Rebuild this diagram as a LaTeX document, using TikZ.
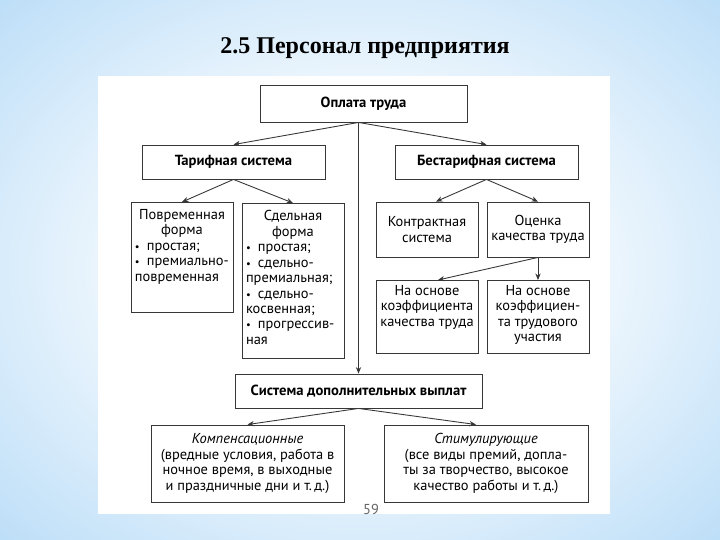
\documentclass[tikz,border=0pt]{standalone}
\usepackage{fontspec}
\setmainfont{PT Sans}
\newfontfamily\titlefont{Liberation Serif}
\usetikzlibrary{arrows.meta}
\definecolor{bgblue}{RGB}{172,214,246}
\definecolor{bgdeep}{RGB}{140,196,241}
\definecolor{linegray}{RGB}{55,55,55}
\pgfdeclareradialshading{slideshade}{\pgfpoint{0bp}{0bp}}{color(0bp)=(white); color(10bp)=(white); color(42bp)=(bgblue); color(72bp)=(bgdeep)}
\newcommand\bul{{\small\textbullet}\enspace}
\tikzset{
  box/.style={draw=linegray, line width=0.75pt, fill=white, inner sep=0pt, align=center,
    font=\fontsize{12.3}{13.2}\selectfont},
  headbox/.style={box, font=\bfseries\fontsize{12.5}{14}\selectfont},
  arr/.style={draw=linegray, line width=0.75pt, -{Stealth[length=5.5pt,width=4.5pt]}},
}

\begin{document}
\begin{tikzpicture}[x=0.03cm,y=-0.03cm]
			%%%%% START %%%%%
			
			\shade[shading=slideshade] (0,0) rectangle (720,540);
			\fill[white] (98,76) rectangle (610,514);
			
			\node[font=\titlefont\bfseries\fontsize{20.5}{22}\selectfont] (title) at (365,48) {2.5 Персонал предприятия};
			
			\node[headbox, minimum width=6.21cm, minimum height=1.11cm] (opl) at (363.5,103.5) {Оплата труда};
			\node[headbox, minimum width=5.49cm, minimum height=1.02cm] (tar) at (233.5,162) {Тарифная система};
			\node[headbox, minimum width=5.49cm, minimum height=1.02cm] (btar) at (486.5,162) {Бестарифная система};
			
			\node[box, anchor=north, inner xsep=0.12cm, inner ysep=0.21cm] (povr) at (182,202)
				{\parbox[c][2.88cm][t]{2.82cm}{{\centering Повременная\\форма\par}\raggedright
				\bul простая;\\\bul премиально-\\повременная}};
			\node[box, anchor=north, inner xsep=0.12cm, inner ysep=0.21cm] (sdel) at (293,203)
				{\parbox[c][4.23cm][t]{2.82cm}{{\centering Сдельная\\форма\par}\raggedright
				\bul простая;\\\bul сдельно-\\премиальная;\\\bul сдельно-\\косвенная;\\\bul прогрессив-\\ная}};
			
			\node[box, minimum width=3.06cm, minimum height=1.65cm] (kontr) at (427,229.5) {Контрактная\\система};
			\node[box, minimum width=3.06cm, minimum height=1.65cm] (ots) at (538,229.5) {Оценка\\качества труда};
			
			\node[box, anchor=north, inner xsep=0.06cm, inner ysep=0.15cm] (kq) at (427,280)
				{\parbox[c][1.89cm][t]{2.94cm}{\centering На основе\\коэффициента\\качества труда}};
			\node[box, anchor=north, inner xsep=0.06cm, inner ysep=0.15cm] (ktu) at (538,280)
				{\parbox[c][1.89cm][t]{2.94cm}{\centering На основе\\коэффициен-\\та трудового\\участия}};
			
			\node[headbox, minimum width=7.41cm, minimum height=1.02cm] (sys) at (358.5,391) {Система дополнительных выплат};
			
			\node[box, minimum width=5.79cm, minimum height=2.31cm] (komp) at (247.5,463.5)
				{\textit{Компенсационные}\\(вредные условия, работа в\\ночное время, в выходные\\и праздничные дни и т.\,д.)};
			\node[box, minimum width=6.12cm, minimum height=2.31cm] (stim) at (486,463.5)
				{\textit{Стимулирующие}\\(все виды премий, допла-\\ты за творчество, высокое\\качество работы и т.\,д.)};
			
			\node[text=black!60, font=\fontsize{12.3}{13}\selectfont] (page) at (371,509) {59};
			
			% connectors
			\coordinate (hub) at (opl.south -| sys.north);
			\draw[arr] (hub) -- (tar.north);
			\draw[arr] (hub) -- (btar.north);
			\draw[arr] (hub) -- (sys.north);
			
			\draw[arr] (tar.south) -- (povr.north);
			\draw[arr] (tar.south) -- (sdel.north);
			\draw[arr] (btar.south) -- ([xshift=0.27cm]kontr.north);
			\draw[arr] (btar.south) -- (ots.north);
			
			\draw[arr] (ots.south) -- ([xshift=0.33cm]kq.north);
			\draw[arr] (ots.south) -- (ktu.north);
			
			\draw[arr] (sys.south) -- (komp.north);
			\draw[arr] (sys.south) -- ([xshift=-0.3cm]stim.north);
			
			%%%%% END %%%%%
\end{tikzpicture}
\end{document}
